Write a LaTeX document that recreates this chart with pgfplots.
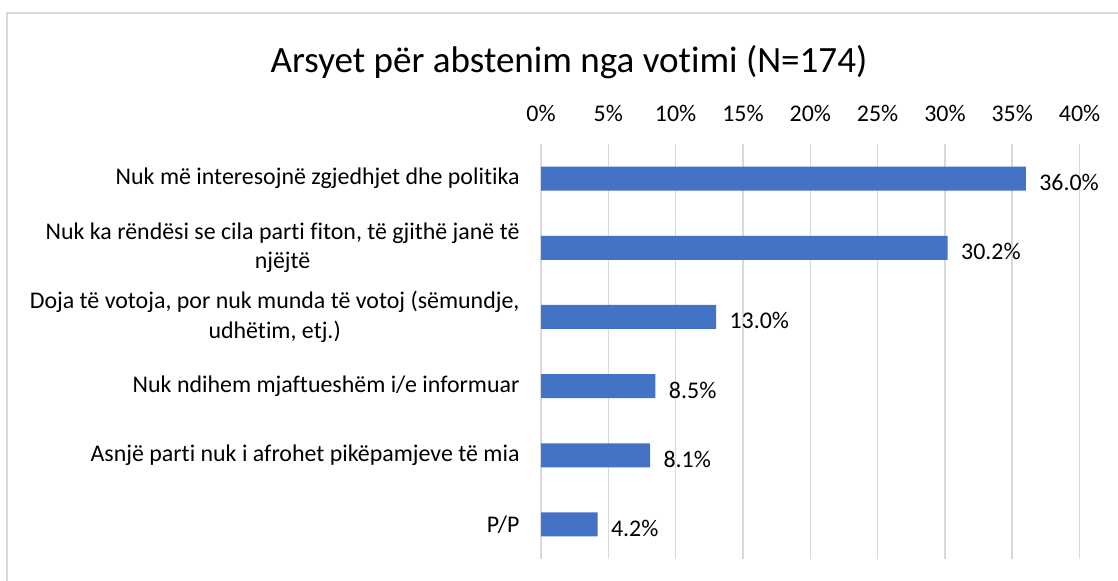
\documentclass[border=0pt]{standalone}
\usepackage{pgfplots}
\pgfplotsset{compat=1.18}
\usepackage{fontspec}
\setmainfont{Carlito}[Ligatures={NoCommon}]
\definecolor{barblue}{HTML}{4472C4}
\definecolor{gridgray}{HTML}{D9D9D9}
\begin{document}
\begin{tikzpicture}[x=1bp,y=1bp]
\useasboundingbox (0,0) rectangle (1118,-581);
\clip (0,0) rectangle (1118,-581);
\draw[gridgray, line width=1.2bp] (7,-13) rectangle (1200,-700);
\node[font=\fontsize{37.2}{44}\selectfont] at (569,-62) {Arsyet për abstenim nga votimi (N=174)};
\begin{axis}[
  at={(541bp,-559bp)}, anchor=south west,
  scale only axis, width=538.6bp, height=415bp,
  xbar, bar width=24bp,
  xmin=0, xmax=40, ymin=-0.5, ymax=5.5, y dir=reverse,
  xtick={0,5,...,40},
  xticklabels={0\%,5\%,10\%,15\%,20\%,25\%,30\%,35\%,40\%},
  xticklabel pos=top,
  xmajorgrids, major grid style={gridgray, line width=1.6bp},
  ytick={0,...,5},
  yticklabels={Nuk më interesojnë zgjedhjet dhe politika,
    {Nuk ka rëndësi se cila parti fiton, të gjithë janë të\\njëjtë},
    {Doja të votoja, por nuk munda të votoj (sëmundje,\\udhëtim, etj.)},
    Nuk ndihem mjaftueshëm i/e informuar,
    Asnjë parti nuk i afrohet pikëpamjeve të mia,
    P/P},
  axis line style={draw=none}, major tick length=0pt,
  tick label style={font=\fontsize{24}{29.5}\selectfont, black},
  yticklabel style={align=center, xshift=-18bp},
  xticklabel style={yshift=19bp},
  /pgf/number format/assume math mode=true,
  point meta=x,
  nodes near coords={\pgfmathprintnumber[fixed,fixed zerofill,precision=1]{\pgfplotspointmeta}\%},
  nodes near coords style={font=\fontsize{24}{29.5}\selectfont, black, xshift=10bp, yshift=-4bp},
]
\addplot[fill=barblue, draw=none] coordinates {(36.0,0) (30.2,1) (13.0,2) (8.5,3) (8.1,4) (4.2,5)};
\end{axis}
\end{tikzpicture}
\end{document}
